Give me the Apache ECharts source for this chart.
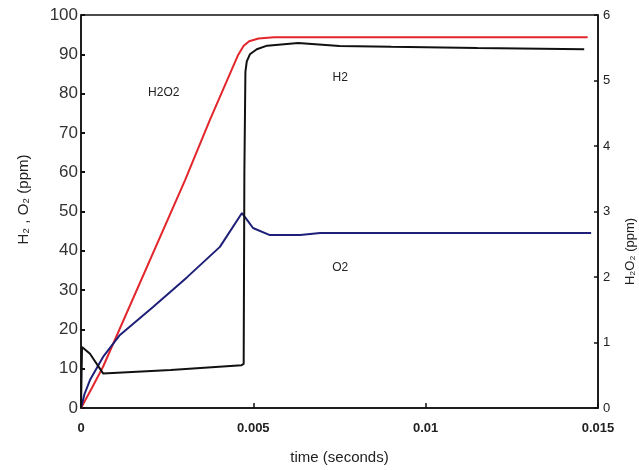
<!DOCTYPE html>
<html><head><meta charset="utf-8">
<script src="https://cdn.jsdelivr.net/npm/echarts@6/dist/echarts.min.js"></script>
<style>html,body{margin:0;padding:0;background:#fff}#c{width:639px;height:470px}</style>
</head><body><div id="c"></div>
<script>
// time (s) / value pairs
const h2o2 = [[0,0],[0.00032,0.31],[0.00064,0.63],[0.00302,3.48],[0.00374,4.40],[0.00455,5.38],[0.00472,5.53],[0.00488,5.60],[0.00515,5.64],[0.0056,5.66],[0.0147,5.66]];
const h2 = [[0,0],[0.00003,15.5],[0.00006,16.0],[0.00026,13.8],[0.00064,8.8],[0.0026,9.7],[0.00466,10.9],[0.00472,11.2],[0.00474,60],[0.00477,85.5],[0.00481,88.2],[0.0049,90.0],[0.0051,91.3],[0.0054,92.2],[0.0063,92.9],[0.0075,92.1],[0.009,91.9],[0.0115,91.6],[0.0146,91.3]];
const o2 = [[0,0],[0.0001,3.5],[0.00026,7.1],[0.00064,13.0],[0.00113,18.6],[0.00209,25.7],[0.00308,33.3],[0.00403,41.0],[0.00467,49.6],[0.0047,50.0],[0.00485,47.5],[0.00499,45.8],[0.00548,44.0],[0.00636,44.0],[0.00694,44.5],[0.0148,44.5]];
const xTicks = [0, 0.005, 0.01, 0.015];
const labelH2O2 = [0.0024, 4.81];
const labelH2 = [0.00752, 84];
const labelO2 = [0.00752, 35.6];

const chart = echarts.init(document.getElementById('c'), null, {renderer:'canvas'});
const font = 'Liberation Sans, Arial, sans-serif';
function tag(name, coord){
  return {symbol:'circle', symbolSize:2, silent:true, itemStyle:{color:'rgba(0,0,0,0)'},
    data:[{coord:coord, name:name}],
    label:{show:true, formatter:name, position:'inside', color:'#222', fontSize:12, fontFamily:font}};
}
chart.setOption({
  animation:false,
  backgroundColor:'#fff',
  grid:{left:81, right:41, top:15, bottom:62, show:true, borderColor:'#111', borderWidth:1.5, containLabel:false, outerBoundsMode:'none'},
  xAxis:{type:'value', min:0, max:0.015, interval:0.005,
    name:'time (seconds)', nameLocation:'middle', nameGap:42,
    nameTextStyle:{fontSize:15, color:'#222', fontFamily:font},
    axisLine:{lineStyle:{color:'#111', width:1.5}},
    axisTick:{inside:true, length:5, lineStyle:{color:'#111', width:1.5}},
    axisLabel:{color:'#222', fontSize:13, fontWeight:'bold', fontFamily:font, margin:14,
      formatter:v=>{const i=xTicks.findIndex(t=>Math.abs(t-v)<1e-9); return i>=0?String(xTicks[i]):'';}},
    splitLine:{show:false}},
  yAxis:[
    {type:'value', min:0, max:100, interval:10, position:'left',
      name:'H\u2082 , O\u2082 (ppm)', nameLocation:'middle', nameGap:50, nameRotate:90,
      nameTextStyle:{fontSize:15, color:'#222', fontFamily:font, padding:[0,0,0,24]},
      axisLine:{show:true, lineStyle:{color:'#111', width:1.5}},
      axisTick:{show:true, inside:true, length:4, lineStyle:{color:'#111', width:2}},
      axisLabel:{color:'#333', fontSize:17, fontFamily:font, margin:3},
      splitLine:{show:false}},
    {type:'value', min:0, max:6, interval:1, position:'right',
      name:'H\u2082O\u2082 (ppm)', nameLocation:'middle', nameGap:26, nameRotate:90,
      nameTextStyle:{fontSize:13, color:'#222', fontFamily:font, padding:[0,80,0,0]},
      axisLine:{show:true, lineStyle:{color:'#111', width:1.5}},
      axisTick:{show:true, inside:true, length:4, lineStyle:{color:'#111', width:1.5}},
      axisLabel:{color:'#222', fontSize:13, fontFamily:font, margin:5},
      splitLine:{show:false}}
  ],
  series:[
    {type:'line', name:'H2O2', yAxisIndex:1, data:h2o2, showSymbol:false, lineStyle:{color:'#e3262b', width:2}, itemStyle:{color:'#e3262b'}, markPoint:tag('H2O2', labelH2O2)},
    {type:'line', name:'O2', yAxisIndex:0, data:o2, showSymbol:false, lineStyle:{color:'#1e1f78', width:2}, itemStyle:{color:'#1e1f78'}, markPoint:tag('O2', labelO2)},
    {type:'line', name:'H2', yAxisIndex:0, data:h2, showSymbol:false, lineStyle:{color:'#111', width:2}, itemStyle:{color:'#111'}, markPoint:tag('H2', labelH2)}
  ]
});
</script></body></html>
